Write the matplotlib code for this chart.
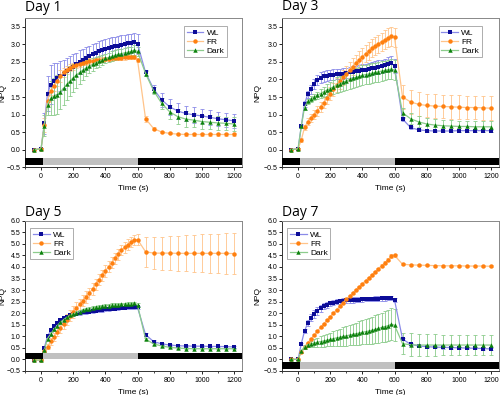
import matplotlib
matplotlib.use("Agg")
import matplotlib.pyplot as plt
from matplotlib.ticker import MultipleLocator

plt.rcParams['font.family'] = ['Liberation Sans', 'DejaVu Sans']

# time points (s)
t = [-45, 0, 20, 40, 60, 80, 100, 120,
     140, 160, 180, 200, 220, 240, 260, 280,
     300, 320, 340, 360, 380, 400, 420, 440,
     460, 480, 500, 520, 540, 560, 580, 600,
     650, 700, 750, 800, 850, 900, 950, 1000,
     1050, 1100, 1150, 1200]

# ---- Day 1 ----
wl1 = [0.00, 0.02, 0.75, 1.60, 1.85, 1.96, 2.03, 2.10,
       2.17, 2.23, 2.30, 2.37, 2.43, 2.50, 2.56, 2.62,
       2.67, 2.72, 2.76, 2.80, 2.84, 2.87, 2.90, 2.93,
       2.95, 2.97, 2.99, 3.01, 3.03, 3.04, 3.06, 3.02,
       2.20, 1.73, 1.42, 1.22, 1.10, 1.03, 0.99, 0.96,
       0.92, 0.88, 0.85, 0.82]
fr1 = [0.00, 0.02, 0.70, 1.40, 1.67, 1.82, 1.97, 2.10,
       2.20, 2.27, 2.33, 2.38, 2.42, 2.45, 2.48, 2.50,
       2.52, 2.54, 2.55, 2.56, 2.57, 2.58, 2.59, 2.60,
       2.61, 2.62, 2.62, 2.63, 2.64, 2.64, 2.65, 2.56,
       0.88, 0.60, 0.50, 0.46, 0.44, 0.43, 0.43, 0.43,
       0.43, 0.43, 0.43, 0.43]
dk1 = [0.00, 0.02, 0.68, 1.28, 1.47, 1.52, 1.57, 1.65,
       1.75, 1.86, 1.96, 2.05, 2.13, 2.20, 2.27, 2.33,
       2.38, 2.43, 2.48, 2.52, 2.56, 2.60, 2.63, 2.66,
       2.69, 2.72, 2.74, 2.76, 2.78, 2.80, 2.84, 2.80,
       2.17, 1.68, 1.32, 1.08, 0.94, 0.87, 0.84, 0.80,
       0.78, 0.76, 0.75, 0.73]
wl1_e = [0.02, 0.02, 0.30, 0.50, 0.55, 0.50, 0.45, 0.42,
         0.40, 0.38, 0.36, 0.35, 0.34, 0.33, 0.32, 0.31,
         0.30, 0.30, 0.29, 0.29, 0.28, 0.28, 0.28, 0.27,
         0.27, 0.27, 0.27, 0.27, 0.27, 0.27, 0.27, 0.28,
         0.08, 0.10, 0.20, 0.22, 0.22, 0.22, 0.22, 0.21,
         0.21, 0.20, 0.20, 0.20]
fr1_e = [0.02, 0.02, 0.20, 0.12, 0.12, 0.14, 0.16, 0.16,
         0.14, 0.12, 0.10, 0.10, 0.09, 0.09, 0.08, 0.08,
         0.08, 0.07, 0.07, 0.07, 0.07, 0.06, 0.06, 0.06,
         0.06, 0.06, 0.06, 0.06, 0.06, 0.06, 0.06, 0.06,
         0.08, 0.05, 0.04, 0.03, 0.03, 0.03, 0.03, 0.03,
         0.03, 0.03, 0.03, 0.03]
dk1_e = [0.02, 0.02, 0.30, 0.30, 0.48, 0.52, 0.55, 0.50,
         0.48, 0.45, 0.42, 0.40, 0.36, 0.32, 0.28, 0.24,
         0.20, 0.18, 0.16, 0.15, 0.15, 0.14, 0.14, 0.14,
         0.14, 0.14, 0.14, 0.14, 0.14, 0.14, 0.14, 0.14,
         0.08, 0.10, 0.15, 0.20, 0.22, 0.22, 0.21, 0.20,
         0.20, 0.20, 0.19, 0.19]

# ---- Day 3 ----
wl3 = [0.00, 0.02, 0.67, 1.30, 1.58, 1.72, 1.87, 1.98,
       2.05, 2.09, 2.11, 2.13, 2.14, 2.15, 2.16, 2.17,
       2.19, 2.20, 2.22, 2.23, 2.25, 2.27, 2.28, 2.30,
       2.32, 2.34, 2.36, 2.38, 2.40, 2.43, 2.46, 2.38,
       0.87, 0.63, 0.56, 0.54, 0.53, 0.53, 0.53, 0.54,
       0.54, 0.54, 0.54, 0.54]
fr3 = [0.00, 0.02, 0.27, 0.63, 0.80, 0.90, 1.00, 1.10,
       1.22, 1.34, 1.47, 1.60, 1.72, 1.84, 1.95, 2.06,
       2.16, 2.27, 2.37, 2.47, 2.56, 2.65, 2.74, 2.82,
       2.89, 2.96, 3.02, 3.08, 3.14, 3.19, 3.24, 3.20,
       1.50, 1.36, 1.29, 1.26, 1.24, 1.23, 1.22, 1.21,
       1.20, 1.20, 1.19, 1.18]
dk3 = [0.00, 0.02, 0.66, 1.20, 1.38, 1.45, 1.50, 1.55,
       1.60, 1.65, 1.70, 1.74, 1.79, 1.84, 1.88, 1.92,
       1.96, 2.00, 2.03, 2.06, 2.09, 2.12, 2.14, 2.16,
       2.18, 2.20, 2.22, 2.24, 2.26, 2.28, 2.30, 2.27,
       1.05, 0.88, 0.79, 0.73, 0.70, 0.68, 0.67, 0.66,
       0.66, 0.65, 0.65, 0.65]
wl3_e = [0.02, 0.02, 0.05, 0.08, 0.10, 0.12, 0.14, 0.15,
         0.15, 0.15, 0.15, 0.15, 0.15, 0.15, 0.15, 0.15,
         0.15, 0.16, 0.16, 0.16, 0.17, 0.17, 0.17, 0.18,
         0.18, 0.18, 0.19, 0.19, 0.19, 0.20, 0.20, 0.20,
         0.06, 0.04, 0.04, 0.03, 0.03, 0.03, 0.03, 0.03,
         0.03, 0.03, 0.03, 0.03]
fr3_e = [0.02, 0.02, 0.05, 0.08, 0.10, 0.12, 0.13, 0.14,
         0.15, 0.16, 0.17, 0.18, 0.19, 0.20, 0.21, 0.22,
         0.22, 0.23, 0.23, 0.24, 0.24, 0.25, 0.25, 0.25,
         0.26, 0.26, 0.26, 0.26, 0.27, 0.27, 0.27, 0.27,
         0.33, 0.34, 0.34, 0.34, 0.34, 0.34, 0.34, 0.34,
         0.34, 0.34, 0.34, 0.34]
dk3_e = [0.02, 0.02, 0.05, 0.06, 0.07, 0.08, 0.09, 0.10,
         0.12, 0.14, 0.16, 0.18, 0.20, 0.22, 0.23, 0.24,
         0.25, 0.26, 0.27, 0.27, 0.28, 0.28, 0.28, 0.28,
         0.28, 0.28, 0.28, 0.28, 0.28, 0.28, 0.28, 0.28,
         0.15, 0.16, 0.16, 0.16, 0.16, 0.16, 0.16, 0.16,
         0.16, 0.16, 0.16, 0.16]

# ---- Day 5 ----
wl5 = [-0.02, -0.02, 0.50, 1.00, 1.25, 1.45, 1.58, 1.70,
       1.78, 1.85, 1.90, 1.95, 1.98, 2.00, 2.03, 2.05,
       2.07, 2.09, 2.11, 2.13, 2.14, 2.16, 2.17, 2.19,
       2.20, 2.22, 2.23, 2.24, 2.25, 2.26, 2.27, 2.25,
       1.07, 0.77, 0.67, 0.62, 0.59, 0.58, 0.57, 0.57,
       0.56, 0.56, 0.55, 0.54]
fr5 = [-0.02, -0.02, 0.35, 0.55, 0.78, 0.98, 1.19, 1.37,
       1.55, 1.72, 1.89, 2.06, 2.22, 2.38, 2.54, 2.70,
       2.86, 3.05, 3.25, 3.45, 3.64, 3.83, 4.01, 4.19,
       4.37, 4.55, 4.73, 4.85, 4.97, 5.07, 5.16, 5.19,
       4.66, 4.60, 4.60, 4.60, 4.59, 4.59, 4.59, 4.59,
       4.59, 4.59, 4.59, 4.58]
dk5 = [-0.03, -0.03, 0.40, 0.90, 1.10, 1.30, 1.45, 1.60,
       1.72, 1.82, 1.90, 1.97, 2.02, 2.07, 2.12, 2.16,
       2.20, 2.23, 2.26, 2.28, 2.30, 2.32, 2.33, 2.35,
       2.36, 2.37, 2.38, 2.39, 2.40, 2.41, 2.42, 2.35,
       0.88, 0.67, 0.58, 0.52, 0.49, 0.47, 0.46, 0.46,
       0.46, 0.46, 0.46, 0.46]
wl5_e = [0.02, 0.02, 0.05, 0.08, 0.08, 0.08, 0.08, 0.08,
         0.07, 0.07, 0.07, 0.07, 0.07, 0.07, 0.07, 0.07,
         0.07, 0.07, 0.07, 0.07, 0.07, 0.07, 0.07, 0.07,
         0.07, 0.07, 0.07, 0.07, 0.07, 0.07, 0.07, 0.07,
         0.06, 0.05, 0.04, 0.04, 0.04, 0.04, 0.04, 0.04,
         0.04, 0.04, 0.04, 0.04]
fr5_e = [0.02, 0.02, 0.05, 0.10, 0.15, 0.18, 0.20, 0.22,
         0.24, 0.25, 0.25, 0.25, 0.25, 0.25, 0.25, 0.25,
         0.25, 0.25, 0.25, 0.25, 0.25, 0.25, 0.24, 0.24,
         0.24, 0.24, 0.23, 0.23, 0.23, 0.22, 0.22, 0.22,
         0.65, 0.70, 0.72, 0.75, 0.77, 0.78, 0.80, 0.82,
         0.84, 0.86, 0.88, 0.90]
dk5_e = [0.02, 0.02, 0.05, 0.07, 0.07, 0.07, 0.07, 0.07,
         0.07, 0.07, 0.07, 0.07, 0.07, 0.07, 0.07, 0.07,
         0.07, 0.07, 0.07, 0.07, 0.07, 0.07, 0.07, 0.07,
         0.07, 0.07, 0.07, 0.07, 0.07, 0.07, 0.07, 0.07,
         0.05, 0.04, 0.04, 0.03, 0.03, 0.03, 0.03, 0.03,
         0.03, 0.03, 0.03, 0.03]

# ---- Day 7 ----
wl7 = [0.00, 0.00, 0.68, 1.22, 1.57, 1.80, 1.97, 2.10,
       2.22, 2.30, 2.37, 2.42, 2.46, 2.49, 2.52, 2.54,
       2.55, 2.56, 2.57, 2.58, 2.59, 2.60, 2.61, 2.62,
       2.62, 2.63, 2.63, 2.64, 2.64, 2.65, 2.65, 2.57,
       0.88, 0.65, 0.58, 0.55, 0.53, 0.52, 0.51, 0.50,
       0.49, 0.48, 0.47, 0.45]
fr7 = [0.00, 0.00, 0.30, 0.55, 0.72, 0.88, 1.05, 1.22,
       1.38, 1.54, 1.70, 1.85, 2.00, 2.15, 2.30, 2.45,
       2.60, 2.74, 2.88, 3.02, 3.15, 3.28, 3.41, 3.54,
       3.67, 3.80, 3.93, 4.06, 4.19, 4.32, 4.47, 4.50,
       4.12, 4.09, 4.08, 4.07, 4.06, 4.05, 4.05, 4.05,
       4.04, 4.04, 4.04, 4.03]
dk7 = [0.00, 0.00, 0.35, 0.55, 0.63, 0.67, 0.71, 0.74,
       0.77, 0.80, 0.83, 0.86, 0.90, 0.93, 0.96, 0.99,
       1.02, 1.05, 1.08, 1.11, 1.14, 1.17, 1.20, 1.23,
       1.26, 1.30, 1.34, 1.38, 1.42, 1.46, 1.52, 1.48,
       0.68, 0.63, 0.62, 0.62, 0.62, 0.62, 0.62, 0.62,
       0.62, 0.62, 0.62, 0.62]
wl7_e = [0.02, 0.02, 0.05, 0.08, 0.12, 0.15, 0.16, 0.16,
         0.15, 0.14, 0.13, 0.12, 0.12, 0.11, 0.11, 0.11,
         0.11, 0.11, 0.11, 0.10, 0.10, 0.10, 0.10, 0.10,
         0.10, 0.10, 0.10, 0.10, 0.10, 0.10, 0.10, 0.10,
         0.06, 0.05, 0.05, 0.05, 0.05, 0.05, 0.05, 0.05,
         0.05, 0.05, 0.05, 0.05]
fr7_e = [0.02, 0.02, 0.03, 0.03, 0.03, 0.03, 0.03, 0.03,
         0.03, 0.03, 0.03, 0.03, 0.03, 0.03, 0.03, 0.03,
         0.03, 0.03, 0.03, 0.03, 0.03, 0.04, 0.04, 0.04,
         0.04, 0.04, 0.04, 0.05, 0.05, 0.06, 0.08, 0.08,
         0.05, 0.04, 0.04, 0.04, 0.04, 0.04, 0.04, 0.04,
         0.04, 0.04, 0.04, 0.04]
dk7_e = [0.02, 0.02, 0.05, 0.08, 0.10, 0.13, 0.16, 0.19,
         0.22, 0.25, 0.27, 0.30, 0.32, 0.35, 0.37, 0.40,
         0.42, 0.44, 0.46, 0.48, 0.50, 0.52, 0.54, 0.56,
         0.58, 0.60, 0.62, 0.64, 0.66, 0.68, 0.70, 0.70,
         0.45, 0.50, 0.48, 0.47, 0.46, 0.45, 0.45, 0.44,
         0.44, 0.43, 0.43, 0.42]

titles = ['Day 1', 'Day 3', 'Day 5', 'Day 7']
labels = ['WL', 'FR', 'Dark']

# marker colour, line colour, marker
styles = [('#0c0c98', '#8a8ae8', 's'),
          ('#ff8010', '#ffc48a', 'o'),
          ('#0d820d', '#8ccc8c', '^')]

panels = [
    dict(data=[(wl1, wl1_e), (fr1, fr1_e), (dk1, dk1_e)], pos=[0.050, 0.577, 0.434, 0.377],
         ymax=3.75, bar=(-0.43, -0.24), leg=('upper right', (0.93, 0.945)), ylab=-0.085),
    dict(data=[(wl3, wl3_e), (fr3, fr3_e), (dk3, dk3_e)], pos=[0.564, 0.577, 0.434, 0.377],
         ymax=3.75, bar=(-0.43, -0.24), leg=('upper right', (0.92, 0.945)), ylab=-0.097),
    dict(data=[(wl5, wl5_e), (fr5, fr5_e), (dk5, dk5_e)], pos=[0.050, 0.061, 0.434, 0.380],
         ymax=6.0, bar=(0.0, 0.29), leg=('upper left', (0.025, 0.95)), ylab=-0.085),
    dict(data=[(wl7, wl7_e), (fr7, fr7_e), (dk7, dk7_e)], pos=[0.564, 0.061, 0.434, 0.380],
         ymax=6.0, bar=(-0.43, -0.10), leg=('upper left', (0.025, 0.95)), ylab=-0.097),
]
title_pos = [(0.050, 0.972), (0.564, 0.974), (0.050, 0.453), (0.564, 0.453)]

fig = plt.figure(figsize=(5.0, 3.95), dpi=100)

for p, title, tp in zip(panels, titles, title_pos):
    ax = fig.add_axes(p['pos'])
    for (y, e), lab, (mc, lc, mk) in zip(p['data'], labels, styles):
        ax.errorbar(t, y, yerr=e, fmt='none', ecolor=lc, elinewidth=0.6,
                    capsize=1.4, capthick=0.6, zorder=2)
        ax.plot(t, y, color=lc, lw=0.9, marker=mk, ms=3.2, mfc=mc, mec=mc,
                mew=0, label=lab, zorder=3)
    # light / dark bar
    y0, y1 = p['bar']
    ax.fill_between([-100, 10], y0, y1, color='black', lw=0, zorder=4)
    ax.fill_between([10, 600], y0, y1, color='#c0c0c0', lw=0, zorder=4)
    ax.fill_between([600, 1250], y0, y1, color='black', lw=0, zorder=4)

    ax.set_xlim(-100, 1250)
    ax.set_ylim(-0.5, p['ymax'])
    ax.xaxis.set_major_locator(MultipleLocator(200))
    ax.xaxis.set_minor_locator(MultipleLocator(100))
    ax.yaxis.set_major_locator(MultipleLocator(0.5))
    ax.tick_params(labelsize=5, length=2, width=0.6, pad=1.5, direction='out')
    ax.tick_params(axis='x', pad=2.5)
    ax.tick_params(which='minor', length=1.2, width=0.5)
    ax.set_xlabel('Time (s)', fontsize=6, labelpad=3.5)
    ax.set_ylabel('NPQ', fontsize=6)
    ax.yaxis.set_label_coords(p['ylab'], 0.5)
    for s in ['left', 'bottom']:
        ax.spines[s].set_color('#333333')
        ax.spines[s].set_linewidth(0.7)
    for s in ['top', 'right']:
        ax.spines[s].set_color('#888888')
        ax.spines[s].set_linewidth(0.7)

    loc, anchor = p['leg']
    leg = ax.legend(loc=loc, bbox_to_anchor=anchor, fontsize=6, frameon=True,
                    fancybox=False, edgecolor='#888888', handlelength=2.0,
                    handletextpad=0.4, borderpad=0.3, labelspacing=0.15,
                    borderaxespad=0)
    leg.get_frame().set_linewidth(0.6)

    fig.text(tp[0], tp[1], title, fontsize=10, family=['Open Sans', 'DejaVu Sans'],
             va='baseline', ha='left')

fig.savefig('out.png', dpi=100)
